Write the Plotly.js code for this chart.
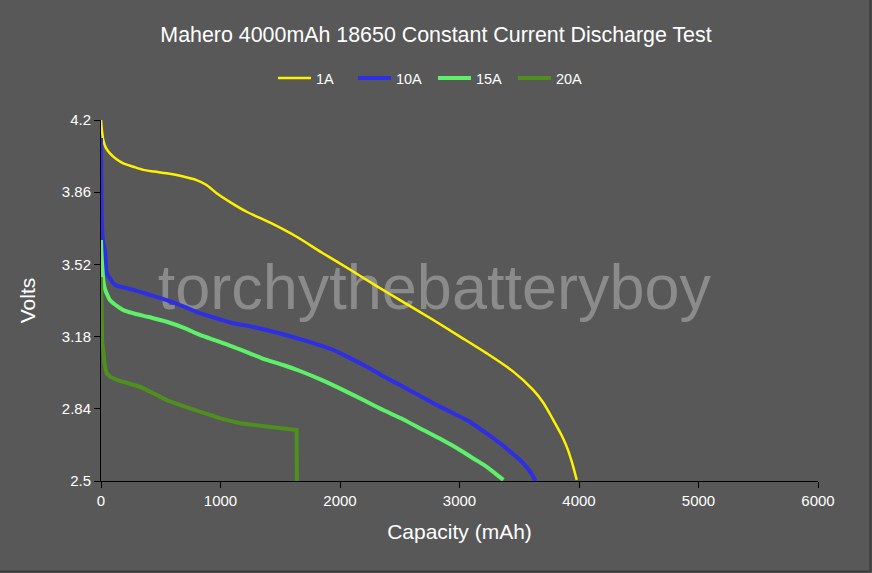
<!DOCTYPE html>
<html>
<head>
<meta charset="utf-8">
<script src="https://cdn.plot.ly/plotly-3.0.1.min.js"></script>
<style>
  html, body { margin: 0; padding: 0; background: #585858; }
  #chart { width: 872px; height: 573px; }
</style>
</head>
<body>
<div id="chart"></div>
<script>
// Discharge curves, capacity (mAh) vs volts

const cap1 = [0, 8, 19, 40, 75, 130, 187, 270, 354, 450, 550, 680, 800, 880, 968, 1090, 1219, 1420, 1637, 1850, 2100, 2300, 2502, 2781, 3004, 3228, 3450, 3618, 3700, 3785, 3850, 3897, 3940, 3981];
const v1 = [4.2, 4.15, 4.106, 4.07, 4.043, 4.015, 3.996, 3.98, 3.965, 3.957, 3.949, 3.935, 3.917, 3.895, 3.855, 3.81, 3.768, 3.715, 3.65, 3.575, 3.49, 3.42, 3.352, 3.258, 3.18, 3.101, 3.015, 2.928, 2.87, 2.787, 2.72, 2.662, 2.59, 2.505];

const cap10 = [0, 2, 5, 10, 20, 33, 50, 75, 103, 131, 200, 270, 400, 550, 700, 828, 1000, 1107, 1250, 1387, 1530, 1665, 1800, 1944, 2080, 2223, 2360, 2502, 2640, 2781, 2920, 3060, 3200, 3339, 3420, 3506, 3570, 3618, 3635];
const v10 = [4.115, 3.95, 3.78, 3.68, 3.62, 3.588, 3.475, 3.455, 3.431, 3.42, 3.41, 3.4, 3.378, 3.352, 3.32, 3.29, 3.26, 3.243, 3.228, 3.211, 3.19, 3.168, 3.145, 3.117, 3.08, 3.038, 2.995, 2.952, 2.91, 2.866, 2.827, 2.787, 2.735, 2.678, 2.64, 2.599, 2.56, 2.52, 2.5];

const cap15 = [0, 5, 12, 19, 30, 47, 75, 103, 150, 187, 270, 400, 550, 700, 828, 970, 1107, 1250, 1387, 1530, 1665, 1850, 2028, 2200, 2362, 2530, 2697, 2850, 3004, 3120, 3228, 3300, 3367];
const v15 = [3.635, 3.56, 3.5, 3.447, 3.41, 3.384, 3.352, 3.337, 3.318, 3.305, 3.29, 3.272, 3.25, 3.22, 3.188, 3.16, 3.132, 3.1, 3.07, 3.045, 3.018, 2.975, 2.928, 2.88, 2.834, 2.79, 2.74, 2.695, 2.646, 2.605, 2.567, 2.535, 2.505];

const cap20 = [0, 2, 5, 10, 19, 30, 47, 80, 131, 200, 326, 450, 550, 700, 828, 1000, 1163, 1300, 1442, 1550, 1637, 1639];
const v20 = [3.46, 3.35, 3.22, 3.15, 3.117, 3.05, 3.007, 2.99, 2.976, 2.965, 2.944, 2.91, 2.881, 2.85, 2.826, 2.795, 2.772, 2.762, 2.756, 2.748, 2.74, 2.5];

const names = ["1A", "10A", "15A", "20A"];
const colors = ["#fff200", "#2e2ee6", "#5ff06a", "#4e8f1e"];
const widths = [2.5, 4, 4, 4];

const yTicks = [2.5, 2.84, 3.18, 3.52, 3.86, 4.2];
const yTickText = ["2.5", "2.84", "3.18", "3.52", "3.86", "4.2"];

const FONT = "Liberation Sans, Arial, sans-serif";
const FG = "#ffffff";

const xs = [cap1, cap10, cap15, cap20], ys = [v1, v10, v15, v20];
const traces = names.map((n, i) => ({
    x: xs[i], y: ys[i], name: n, type: "scatter", mode: "lines",
    line: { color: colors[i], width: widths[i], shape: i === 3 ? "linear" : "spline", smoothing: 0.8 }
}));

const ax = {
    showgrid: false, zeroline: false, showline: true, linecolor: "#000", linewidth: 1,
    ticks: "outside", ticklen: 6, tickcolor: "#000",
    tickfont: { size: 15, color: FG, family: FONT }
};

const layout = {
    width: 872, height: 573,
    paper_bgcolor: "#585858", plot_bgcolor: "#585858",
    font: { family: FONT, color: FG },
    margin: { l: 101, r: 54, t: 120, b: 92 },
    title: {
        text: "Mahero 4000mAh 18650 Constant Current Discharge Test",
        font: { size: 21.4, color: FG, family: FONT },
        x: 0.5, xref: "container", y: 1 - 35 / 573, yref: "container", yanchor: "middle"
    },
    xaxis: { ...ax, range: [0, 6000], dtick: 1000, tick0: 0,
        title: { text: "Capacity (mAh)", font: { size: 21, color: FG, family: FONT }, standoff: 16 } },
    yaxis: { ...ax, range: [2.5, 4.2], tickvals: yTicks, ticktext: yTickText,
        title: { text: "Volts", font: { size: 21, color: FG, family: FONT }, standoff: 20 } },
    showlegend: true,
    legend: {
        orientation: "h", x: 0.463, xanchor: "center", y: (481 - 78) / 361, yanchor: "middle",
        entrywidth: 32, itemwidth: 33,
        font: { size: 14.5, color: FG, family: FONT }, bgcolor: "rgba(0,0,0,0)"
    },
    shapes: [
        { type: "rect", xref: "paper", yref: "paper", x0: 0.08, x1: 0.85, y0: 0.455, y1: 0.655,
          layer: "below", line: { width: 0 }, fillcolor: "rgba(0,0,0,0)",
          label: { text: "torchythebatteryboy", textposition: "middle center",
                   font: { size: 63, color: "#8b8b8b", family: FONT } } },
        { type: "line", xref: "paper", yref: "paper", x0: 1.0732, x1: 1.0732, y0: -0.2507, y1: 1.333,
          line: { color: "#3c3c3c", width: 2 } },
        { type: "line", xref: "paper", yref: "paper", x0: -0.141, x1: 1.0732, y0: -0.2507, y1: -0.2507,
          line: { color: "#3c3c3c", width: 2 } }
    ]
};

Plotly.newPlot("chart", traces, layout, { displayModeBar: false, staticPlot: true });
</script>
</body>
</html>
